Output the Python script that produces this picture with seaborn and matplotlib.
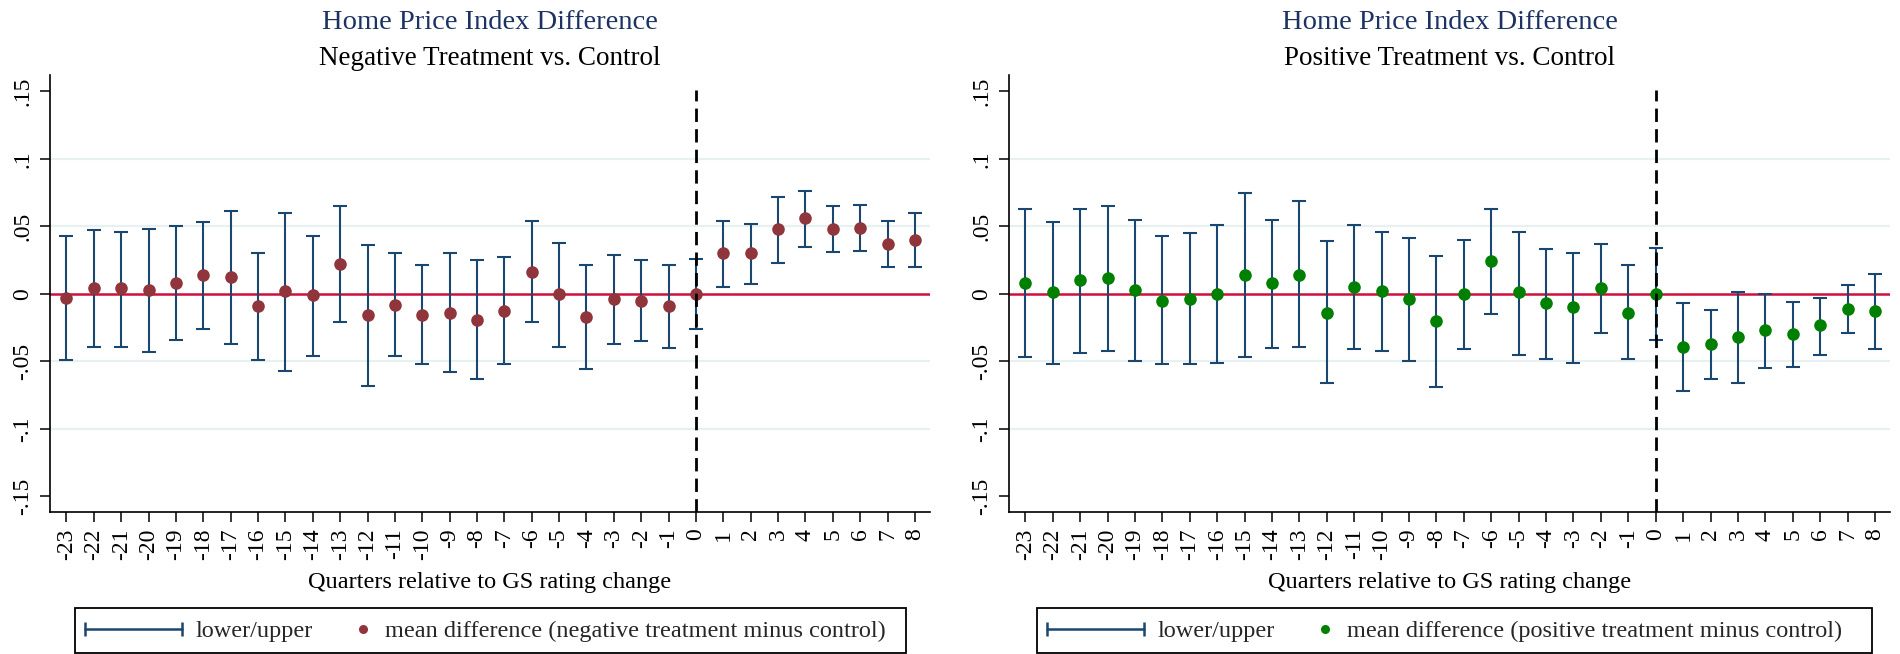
import numpy as np
import pandas as pd
import matplotlib
matplotlib.use("Agg")
import matplotlib.pyplot as plt
import seaborn as sns
from matplotlib.legend_handler import HandlerBase
from matplotlib.lines import Line2D
from matplotlib.patches import Rectangle

# ---------------- data ----------------
quarters = list(range(-23, 9))
neg_mean = [-0.003, 0.004, 0.004, 0.003, 0.008, 0.0136, 0.0126, -0.009, 0.002, -0.001,
            0.022, -0.016, -0.008, -0.016, -0.014, -0.019, -0.013, 0.016, 0.000, -0.017,
            -0.004, -0.005, -0.009, 0.000, 0.030, 0.030, 0.048, 0.056, 0.048, 0.049,
            0.037, 0.040]
neg_upper = [0.043, 0.047, 0.046, 0.048, 0.050, 0.053, 0.061, 0.030, 0.060, 0.043,
             0.065, 0.036, 0.030, 0.021, 0.030, 0.025, 0.027, 0.054, 0.038, 0.021,
             0.029, 0.025, 0.021, 0.026, 0.054, 0.052, 0.072, 0.076, 0.065, 0.066,
             0.054, 0.060]
neg_lower = [-0.049, -0.039, -0.039, -0.043, -0.034, -0.026, -0.037, -0.049, -0.057, -0.046,
             -0.021, -0.068, -0.046, -0.052, -0.058, -0.063, -0.052, -0.021, -0.039, -0.056,
             -0.037, -0.035, -0.040, -0.026, 0.005, 0.007, 0.023, 0.035, 0.031, 0.032,
             0.020, 0.020]
pos_mean = [0.008, 0.001, 0.010, 0.012, 0.003, -0.005, -0.0035, 0.000, 0.014, 0.008,
            0.014, -0.014, 0.005, 0.002, -0.004, -0.020, 0.000, 0.024, 0.001, -0.007,
            -0.010, 0.0045, -0.014, 0.000, -0.039, -0.037, -0.032, -0.027, -0.030, -0.023,
            -0.011, -0.013]
pos_upper = [0.063, 0.053, 0.063, 0.065, 0.055, 0.043, 0.045, 0.051, 0.075, 0.055,
             0.069, 0.039, 0.051, 0.046, 0.041, 0.028, 0.040, 0.063, 0.046, 0.033,
             0.030, 0.037, 0.021, 0.034, -0.007, -0.012, 0.0015, 0.000, -0.006, -0.003,
             0.0064, 0.0146]
pos_lower = [-0.047, -0.052, -0.044, -0.042, -0.050, -0.052, -0.052, -0.051, -0.047, -0.040,
             -0.039, -0.066, -0.041, -0.042, -0.050, -0.069, -0.041, -0.015, -0.045, -0.048,
             -0.051, -0.029, -0.048, -0.034, -0.072, -0.063, -0.066, -0.055, -0.054, -0.045,
             -0.029, -0.041]

yticks = [-0.15, -0.1, -0.05, 0, 0.05, 0.1, 0.15]
ytick_labels = ["-.15", "-.1", "-.05", "0", ".05", ".1", ".15"]
main_title = "Home Price Index Difference"
subtitles = ["Negative Treatment vs. Control", "Positive Treatment vs. Control"]
xlabel = "Quarters relative to GS rating change"
ci_label = "lower/upper"
mean_labels = ["mean difference (negative treatment minus control)",
               "mean difference (positive treatment minus control)"]

# ---------------- style ----------------
sns.set_theme(style="white")
plt.rcParams["font.family"] = ["Liberation Serif", "DejaVu Serif"]

NAVY = "#1a476f"
MAROON = "#90353b"
GREEN = "#008000"
ZERO_RED = "#cf0f3c"
GRID = "#e9f0f2"
TITLE_NAVY = "#1c3263"

W, H = 1900, 654
fig = plt.figure(figsize=(W / 100, H / 100), dpi=100)
fig.patch.set_facecolor("white")


class RcapHandler(HandlerBase):
    def create_artists(self, legend, orig_handle, xdescent, ydescent, width, height,
                       fontsize, trans):
        y = height / 2 - ydescent
        line = Line2D([-xdescent, -xdescent + width], [y, y], color=NAVY, lw=1.8)
        caps = Line2D([-xdescent, -xdescent + width], [y, y], color=NAVY, lw=0,
                      marker="|", markersize=10, markeredgewidth=1.8)
        for a in (line, caps):
            a.set_transform(trans)
        return [line, caps]


class DotHandler(HandlerBase):
    def __init__(self, color):
        super().__init__()
        self.color = color

    def create_artists(self, legend, orig_handle, xdescent, ydescent, width, height,
                       fontsize, trans):
        y = height / 2 - ydescent
        x = -xdescent + width - 6
        dot = Line2D([x], [y], color=self.color, lw=0, marker="o", markersize=6.5,
                     markeredgewidth=0)
        dot.set_transform(trans)
        return [dot]


panels = [
    dict(left=50, right=930, mean=neg_mean, lo=neg_lower, hi=neg_upper, color=MAROON,
         sub=subtitles[0], mlabel=mean_labels[0], box=(75, 906)),
    dict(left=1009, right=1890, mean=pos_mean, lo=pos_lower, hi=pos_upper, color=GREEN,
         sub=subtitles[1], mlabel=mean_labels[1], box=(1037, 1872)),
]

top_px, bottom_px = 75, 512
box_top, box_bot = 608, 653
for p in panels:
    ax = fig.add_axes([p["left"] / W, 1 - bottom_px / H, (p["right"] - p["left"]) / W,
                       (bottom_px - top_px) / H])
    df = pd.DataFrame({"q": quarters, "mean": p["mean"], "lo": p["lo"], "hi": p["hi"]})

    for v in yticks:
        if abs(v) not in (0, 0.15):
            ax.axhline(v, color=GRID, lw=1.6, zorder=0.5)
    ax.axhline(0, color=ZERO_RED, lw=1.8, zorder=1.5)

    ax.errorbar(df["q"], (df["lo"] + df["hi"]) / 2,
                yerr=[(df["hi"] - df["lo"]) / 2, (df["hi"] - df["lo"]) / 2],
                fmt="none", ecolor=NAVY, elinewidth=1.5, capsize=4.8, capthick=1.5,
                zorder=2)
    sns.scatterplot(data=df, x="q", y="mean", color=p["color"], s=82, linewidth=0,
                    ax=ax, zorder=3, legend=False)

    ax.axvline(0, ymax=0.965, color="black", lw=2.0, dashes=(4.8, 2.6), zorder=4)

    ax.set_xlim(-23.6, 8.55)
    ax.set_ylim(-0.1615, 0.162)
    ax.set_xticks(quarters)
    ax.set_xticklabels([str(q) for q in quarters], rotation=90, fontsize=17)
    ax.set_yticks(yticks)
    ax.set_yticklabels(ytick_labels, rotation=90, va="center", fontsize=17)
    ax.set_xlabel("")
    ax.set_ylabel("")
    for s in ("top", "right"):
        ax.spines[s].set_visible(False)
    for s in ("left", "bottom"):
        ax.spines[s].set_color("black")
        ax.spines[s].set_linewidth(1.2)
    ax.tick_params(axis="both", direction="out", length=7, width=1.1, color="black",
                   labelcolor="black", left=True, bottom=True)
    ax.tick_params(axis="x", pad=5)
    ax.tick_params(axis="y", pad=5)

    cx = (p["left"] + p["right"]) / 2 / W
    fig.text(cx, 1 - 29 / H, main_title, ha="center", va="baseline", fontsize=20.5,
             color=TITLE_NAVY)
    fig.text(cx, 1 - 65 / H, p["sub"], ha="center", va="baseline", fontsize=19.5,
             color="black")
    fig.text(cx, 1 - 588 / H, xlabel, ha="center", va="baseline", fontsize=17.5,
             color="black")

    # legend box (Stata-style, with extra room on the right)
    bx0, bx1 = p["box"]
    fig.add_artist(Rectangle((bx0 / W, 1 - box_bot / H), (bx1 - bx0) / W,
                             (box_bot - box_top) / H, transform=fig.transFigure,
                             facecolor="white", edgecolor="black", lw=1.3, zorder=5))
    h1 = Line2D([], [], label=ci_label)
    h2 = Line2D([], [], label=p["mlabel"])
    leg = fig.legend(handles=[h1, h2], labels=[ci_label, p["mlabel"]],
                     handler_map={h1: RcapHandler(), h2: DotHandler(p["color"])},
                     loc="center left", bbox_to_anchor=((bx0 + 10) / W, 1 - 631 / H),
                     ncol=2, fontsize=17.5, frameon=False,
                     handlelength=4.0, handletextpad=0.55, columnspacing=-1.6,
                     borderpad=0, borderaxespad=0)
    leg.set_zorder(6)

fig.savefig("out.png", dpi=100, facecolor="white")
